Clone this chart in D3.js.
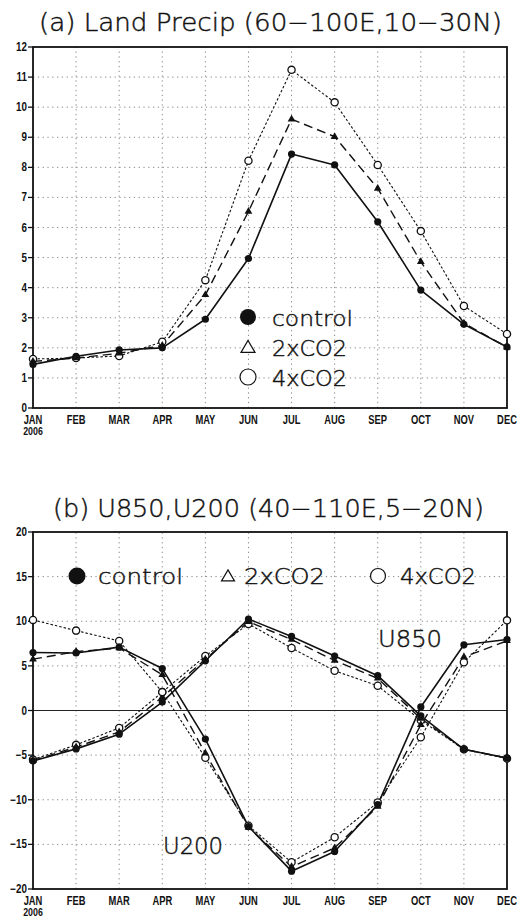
<!DOCTYPE html>
<html>
<head>
<meta charset="utf-8">
<script src="https://cdn.jsdelivr.net/npm/d3@7"></script>
<style>
  html, body { margin: 0; padding: 0; background: #fff; }
  svg { display: block; }
  .ttl { font-family: "DejaVu Sans", sans-serif; font-weight: 200; fill: #111; stroke: #111; stroke-width: 0.45; }
  .tick { font-family: "Liberation Sans", Arial, sans-serif; font-weight: bold; fill: #111; }
</style>
</head>
<body>
<svg id="chart" width="525" height="918"></svg>
<script>
// ---------- data ----------
const months = ["JAN","FEB","MAR","APR","MAY","JUN","JUL","AUG","SEP","OCT","NOV","DEC"];
const yearLabel = "2006";
const seriesNames = ["control","2xCO2","4xCO2"];

// (a) Land precip (mm/day)
const precipControl = [1.45, 1.72, 1.93, 2.0, 2.95, 4.97, 8.44, 8.08, 6.19, 3.92, 2.78, 2.03];
const precip2x      = [1.55, 1.66, 1.82, 2.08, 3.76, 6.53, 9.6, 9.02, 7.3, 4.86, 2.82, 2.02];
const precip4x      = [1.63, 1.66, 1.73, 2.2, 4.25, 8.22, 11.24, 10.16, 8.08, 5.88, 3.39, 2.46];
const precipTicks   = [0,1,2,3,4,5,6,7,8,9,10,11,12];

// (b) U850 and U200 (m/s)
const u850Control = [-5.65, -4.3, -2.65, 0.94, 5.57, 10.25, 8.3, 6.1, 3.9, -0.6, -4.35, -5.33];
const u8502x      = [-5.6, -4.1, -2.4, 1.5, 5.75, 9.95, 7.95, 5.6, 3.6, -0.9, -4.35, -5.33];
const u8504x      = [-5.5, -3.85, -1.95, 2.06, 6.1, 9.7, 7.0, 4.45, 2.77, -1.1, -4.35, -5.38];
const u200Control = [6.5, 6.45, 7.1, 4.7, -3.2, -13.0, -18.0, -15.8, -10.55, 0.4, 7.36, 7.95];
const u2002x      = [5.75, 6.6, 7.0, 4.0, -4.8, -13.1, -17.5, -15.4, -10.75, -1.6, 6.0, 7.8];
const u2004x      = [10.15, 8.95, 7.8, 2.06, -5.3, -12.9, -17.0, -14.2, -10.3, -3.0, 5.4, 10.1];
const windTicks   = [-20,-15,-10,-5,0,5,10,15,20];

// ---------- drawing ----------
const svg = d3.select("#chart");
const x = d3.scalePoint().domain(months).range([33, 507]);

const styles = {
  control: { dash: null, width: 1.6, marker: "filled" },
  "2xCO2": { dash: "9,5", width: 1.4, marker: "tri" },
  "4xCO2": { dash: "2.5,2", width: 1.1, marker: "open" }
};

function panel(y, ticks, gridTicks, seriesList, opts) {
  const g = svg.append("g");
  const [y0, y1] = y.range(); // bottom, top
  g.selectAll(".gy").data(gridTicks).join("line")
    .attr("x1", x.range()[0]).attr("x2", x.range()[1])
    .attr("y1", d => y(d)).attr("y2", d => y(d))
    .attr("stroke", "#8a8a8a").attr("stroke-width", 1).attr("stroke-dasharray", "1.3,3.5");
  g.selectAll(".gx").data(months.slice(1, -1)).join("line")
    .attr("x1", d => x(d)).attr("x2", d => x(d))
    .attr("y1", y0).attr("y2", y1)
    .attr("stroke", "#8a8a8a").attr("stroke-width", 1).attr("stroke-dasharray", "1.3,3.5");
  if (opts.zeroLine) {
    g.append("line").attr("x1", x.range()[0]).attr("x2", x.range()[1])
      .attr("y1", y(0)).attr("y2", y(0)).attr("stroke", "#222").attr("stroke-width", 1.2);
  }
  g.append("rect").attr("x", x.range()[0]).attr("y", y1)
    .attr("width", x.range()[1] - x.range()[0]).attr("height", y0 - y1)
    .attr("fill", "none").attr("stroke", "#111").attr("stroke-width", 1.8);
  g.selectAll(".yt").data(ticks).join("line")
    .attr("x1", x.range()[0] - 5).attr("x2", x.range()[0])
    .attr("y1", d => y(d)).attr("y2", d => y(d))
    .attr("stroke", "#111").attr("stroke-width", 1.3);
  g.selectAll(".yl").data(ticks).join("text")
    .attr("class", "tick")
    .attr("transform", d => `translate(27,${y(d) + 4}) scale(0.82,1)`)
    .attr("text-anchor", "end").attr("font-size", 12)
    .text(d => d < 0 ? "\u2212" + Math.abs(d) : d);
  g.selectAll(".xl").data(months).join("text")
    .attr("class", "tick")
    .attr("transform", d => `translate(${x(d)},${y0 + 15.5}) scale(0.75,1)`)
    .attr("text-anchor", "middle").attr("font-size", 12.5)
    .text(d => d);
  g.append("text").attr("class", "tick")
    .attr("transform", `translate(${x(months[0])},${y0 + 26.5}) scale(0.8,1)`)
    .attr("text-anchor", "middle").attr("font-size", 11).text(yearLabel);

  seriesList.forEach(s => {
    const st = styles[s.name];
    const line = d3.line().x((d, i) => x(months[i])).y(d => y(d));
    g.append("path").datum(s.values).attr("d", line)
      .attr("fill", "none").attr("stroke", "#111")
      .attr("stroke-width", st.width)
      .attr("stroke-dasharray", st.dash)
      .attr("stroke-linejoin", "round");
  });
  seriesList.forEach(s => {
    const st = styles[s.name];
    const pts = g.append("g");
    s.values.forEach((v, i) => {
      const cx = x(months[i]), cy = y(v);
      if (st.marker === "filled") {
        pts.append("circle").attr("cx", cx).attr("cy", cy).attr("r", 3.6).attr("fill", "#111");
      } else if (st.marker === "open") {
        pts.append("circle").attr("cx", cx).attr("cy", cy).attr("r", 3.6)
          .attr("fill", "#fff").attr("stroke", "#111").attr("stroke-width", 1.3);
      } else {
        pts.append("path").attr("d", d3.symbol(d3.symbolTriangle, 26)())
          .attr("transform", `translate(${cx},${cy})`).attr("fill", "#111");
      }
    });
  });
  return g;
}

function legendMarker(g, kind, cx, cy, r) {
  if (kind === "filled") {
    g.append("circle").attr("cx", cx).attr("cy", cy).attr("r", r).attr("fill", "#111");
  } else if (kind === "open") {
    g.append("circle").attr("cx", cx).attr("cy", cy).attr("r", r)
      .attr("fill", "#fff").attr("stroke", "#111").attr("stroke-width", 1.2);
  } else {
    const h = r * 1.7;
    g.append("path")
      .attr("d", `M${cx},${cy - h * 0.55} L${cx + r},${cy + h * 0.45} L${cx - r},${cy + h * 0.45} Z`)
      .attr("fill", "#fff").attr("stroke", "#111").attr("stroke-width", 1.2);
  }
}

// ----- Panel (a) -----
const yA = d3.scaleLinear().domain([0, 12]).range([408, 47]);
svg.append("text").attr("class", "ttl").attr("x", 39).attr("y", 31)
  .attr("font-size", 25).attr("textLength", 463).attr("lengthAdjust", "spacingAndGlyphs")
  .text("(a) Land Precip (60\u2212100E,10\u221230N)");
panel(yA, precipTicks, precipTicks.slice(1, -1), [
  { name: "4xCO2", values: precip4x },
  { name: "2xCO2", values: precip2x },
  { name: "control", values: precipControl }
], { zeroLine: false });

const legA = svg.append("g");
const legAY = [317, 347, 377];
["filled", "tri", "open"].forEach((k, i) => {
  legendMarker(legA, k, 248, legAY[i], k === "tri" ? 7 : 8);
  legA.append("text").attr("class", "ttl").attr("x", 272).attr("y", legAY[i] + 9)
    .attr("font-size", 22)
    .attr("textLength", i === 0 ? 81 : 75).attr("lengthAdjust", "spacingAndGlyphs")
    .text(seriesNames[i]);
});

// ----- Panel (b) -----
const yB = d3.scaleLinear().domain([-20, 20]).range([889, 532]);
svg.append("text").attr("class", "ttl").attr("x", 53).attr("y", 517)
  .attr("font-size", 25).attr("textLength", 431).attr("lengthAdjust", "spacingAndGlyphs")
  .text("(b) U850,U200 (40\u2212110E,5\u221220N)");
panel(yB, windTicks, windTicks.filter(d => d !== 0 && Math.abs(d) !== 20), [
  { name: "4xCO2", values: u8504x },
  { name: "2xCO2", values: u8502x },
  { name: "control", values: u850Control },
  { name: "4xCO2", values: u2004x },
  { name: "2xCO2", values: u2002x },
  { name: "control", values: u200Control }
], { zeroLine: true });

const legB = svg.append("g");
const legBX = [77, 228, 378];
const legBTx = [98, 244, 400];
const legBW = [85, 81, 76];
["filled", "tri", "open"].forEach((k, i) => {
  legendMarker(legB, k, legBX[i], 576, k === "filled" ? 8.5 : (k === "tri" ? 6.5 : 7.5));
  legB.append("text").attr("class", "ttl").attr("x", legBTx[i]).attr("y", 584)
    .attr("font-size", 22)
    .attr("textLength", legBW[i]).attr("lengthAdjust", "spacingAndGlyphs")
    .text(seriesNames[i]);
});

svg.append("text").attr("class", "ttl").attr("x", 378).attr("y", 647)
  .attr("font-size", 23).attr("textLength", 64).attr("lengthAdjust", "spacingAndGlyphs").text("U850");
svg.append("text").attr("class", "ttl").attr("x", 163).attr("y", 854)
  .attr("font-size", 23).attr("textLength", 60).attr("lengthAdjust", "spacingAndGlyphs").text("U200");
</script>
</body>
</html>
